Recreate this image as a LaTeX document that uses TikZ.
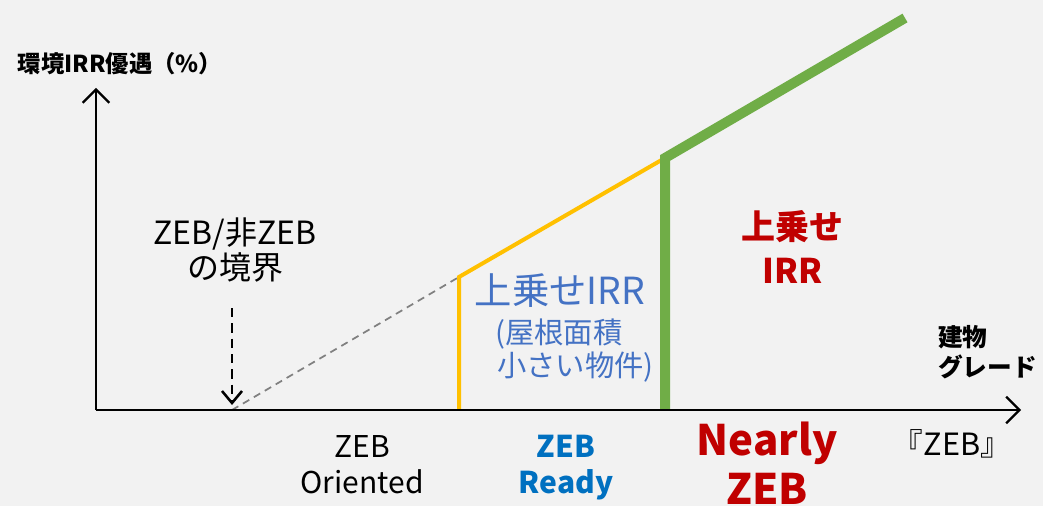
\documentclass[tikz,border=0pt]{standalone}
\usepackage{fontspec}
\setmainfont{Noto Sans CJK JP}
\usetikzlibrary{arrows.meta}
\definecolor{bg}{HTML}{F2F2F2}
\definecolor{zyellow}{HTML}{FFC000}
\definecolor{zgreen}{HTML}{70AD47}
\definecolor{zblue}{HTML}{4472C4}
\definecolor{zdblue}{HTML}{0070C0}
\definecolor{zred}{HTML}{C00000}
\definecolor{zgray}{HTML}{808080}
\tikzset{
  axisline/.style={line width=1.9pt, -{Straight Barb[length=10pt,width=20pt,line width=1.6pt]}},
  marker/.style={line width=2pt, dash pattern=on 7pt off 4.5pt, -{Straight Barb[length=9pt,width=15pt,line width=1.9pt]}},
  extline/.style={line width=1.3pt, zgray, dash pattern=on 5.5pt off 4pt},
  yline/.style={line width=3pt, zyellow, line join=miter},
  gline/.style={line width=7.5pt, zgreen, line join=miter},
  lbl/.style={inner sep=0pt, anchor=base},
  lblw/.style={inner sep=0pt, anchor=base west},
  sz/.style={font={\fontsize{#1}{#1}\selectfont}},
  bsz/.style={font={\bfseries\fontsize{#1}{#1}\selectfont}},
}
\begin{document}
\begin{tikzpicture}[x=0.75pt,y=-0.75pt]
\fill[bg] (0,0) rectangle (1043,506);
\useasboundingbox (0,0) rectangle (1043,506);
% coordinates
\coordinate (O) at (96,410);
\coordinate (ytop) at (96,88);
\coordinate (xend) at (1021,410);
\coordinate (bd) at (232,410);
\coordinate (ms) at (232,308);
\coordinate (me) at (232,405);
\coordinate (yb) at (459,410);
\coordinate (yk) at (459,277);
\coordinate (ye) at (665,158);
\coordinate (gb) at (665,410);
\coordinate (gk) at (665,158);
\coordinate (ge) at (905,18);
% lines
\draw[extline] (bd) -- (yk);
\draw[yline] (yb) -- (yk) -- (ye);
\draw[gline] (gb) -- (gk) -- (ge);
\draw[axisline] (O) -- (ytop);
\draw[axisline] (O) -- (xend);
\draw[marker] (ms) -- (me);
% texts
\node[lbl, bsz=17.5] (ylab) at (120,73) {環境IRR優遇（\%）};
\node[lbl, sz=24] (b1) at (235,245) {ZEB/非ZEB};
\node[lbl, sz=24] (b2) at (235,280) {の境界};
\node[lbl, sz=28, text=zblue] (u1) at (560,305) {上乗せIRR};
\node[lblw, sz=22, text=zblue] (u2) at (495,343) {(屋根面積};
\node[lblw, sz=22, text=zblue] (u3) at (497,376) {小さい物件)};
\node[lbl, bsz=25.5, text=zred] (r1) at (792,239) {上乗せ};
\node[lbl, bsz=25.5, text=zred] (r2) at (793,283) {IRR};
\node[lblw, bsz=18.5] (x1) at (938,346) {建物};
\node[lblw, bsz=18.5] (x2) at (938,376) {グレード};
\node[lbl, sz=22.5] (o1) at (362,457) {ZEB};
\node[lbl, sz=22.5] (o2) at (362,493) {Oriented};
\node[lbl, bsz=22.5, text=zdblue] (rd1) at (566,457) {ZEB};
\node[lbl, bsz=22.5, text=zdblue] (rd2) at (566,493) {Ready};
\node[lbl, bsz=31.5, text=zred] (n1) at (767,455) {Nearly};
\node[lbl, bsz=31.5, text=zred] (n2) at (767,504) {ZEB};
\node[lbl, sz=23] (z1) at (952,455) {『ZEB』};
\end{tikzpicture}
\end{document}
